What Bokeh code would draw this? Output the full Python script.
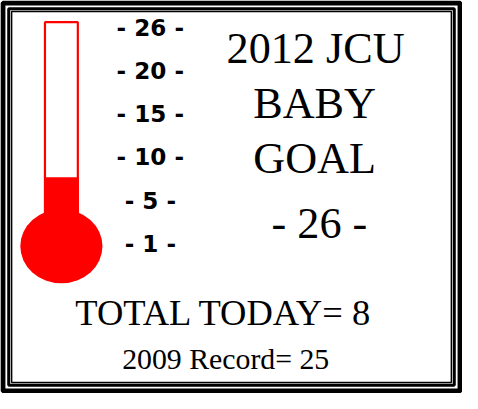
from bokeh.plotting import figure
from bokeh.models import Range1d, Label, BoxAnnotation
from bokeh.embed import file_html
from bokeh.resources import INLINE
from bokeh.core.properties import value

# ---- data ----
goal = 26
total_today = 8
record_2009 = 25
year = 2012
tick_values = [1, 5, 10, 15, 20, 26]
tick_labels = ["- 1 -", "- 5 -", "- 10 -", "- 15 -", "- 20 -", "- 26 -"]
title_lines = ["2012 JCU", "BABY", "GOAL"]
bulb_base = 0

# ---- layout ----
W, H = 462, 393
RW, RH = 478, 409
sx, sy = W / RW, H / RH
s = min(sx, sy)

# value scale for the thermometer (reference px per unit)
ppu = 8.97
anchor_v, anchor_y = 8.0, 184.0
y_top = anchor_v + anchor_y / ppu
y_bot = anchor_v - (RH - anchor_y) / ppu

# evenly spaced scale labels (reference px)
lab_y0, lab_step = 253.3, 45.0
i_top = lab_y0 / lab_step
i_bot = (lab_y0 - RH) / lab_step

p = figure(width=W, height=H, output_backend="svg", toolbar_location=None,
           x_range=Range1d(0, RW), y_range=Range1d(y_bot, y_top),
           min_border=0, outline_line_color=None, background_fill_color="white")
p.extra_y_ranges = {"labels": Range1d(i_bot, i_top)}
p.axis.visible = False
p.grid.visible = False

# thermometer
p.quad(left=[45], right=[81], bottom=[bulb_base], top=[total_today],
       fill_color="#ff0000", line_color=None)
p.quad(left=[46], right=[80], bottom=[bulb_base], top=[goal],
       fill_color=None, line_color="#ff0000", line_width=2.2)
p.ellipse(x=[63], y=[bulb_base], width=85 * sx, height=77 * sy,
          width_units="screen", height_units="screen",
          fill_color="#ff0000", line_color=None)

# scale labels
p.text(x=[155] * len(tick_values), y=list(range(len(tick_values))), text=tick_labels,
       y_range_name="labels",
       text_font=value("DejaVu Sans"), text_font_style="bold",
       text_font_size=f"{24 * s:.1f}px", text_align="center",
       text_baseline="middle", text_color="black")

def lab(txt, xr, yr, size):
    p.add_layout(Label(x=xr * sx, y=(RH - yr) * sy, x_units="screen", y_units="screen",
                       text=txt, text_font="Liberation Serif",
                       text_font_size=f"{size * s:.1f}px", text_align="center",
                       text_baseline="middle", text_color="black"))

lab(title_lines[0], 326, 50, 46)
lab(title_lines[1], 325, 107, 46)
lab(title_lines[2], 325, 164, 46)
lab(f"- {goal} -", 330, 232, 46)
lab(f"TOTAL TODAY= {total_today}", 231, 325, 38)
lab(f"{2009} Record= {record_2009}", 233, 373, 31)

# frame
for inset, lw in [(2.5, 5), (8.5, 3), (11.5, 1.5)]:
    p.add_layout(BoxAnnotation(left=inset * sx, right=(RW - inset) * sx,
                               bottom=inset * sy, top=(RH - inset) * sy,
                               left_units="screen", right_units="screen",
                               bottom_units="screen", top_units="screen",
                               fill_alpha=0, line_color="black", line_alpha=1,
                               line_width=lw))

open("out.html", "w").write(file_html(p, INLINE))
